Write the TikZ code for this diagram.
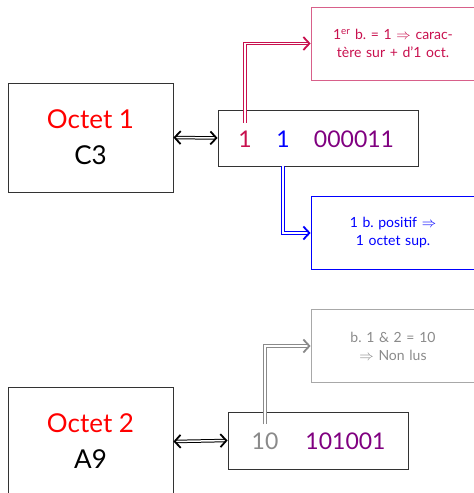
\documentclass[tikz,border=0pt]{standalone}
\usepackage{fontspec}
\setmainfont{Lato}
\frenchspacing
\usetikzlibrary{arrows.meta, positioning, calc}
\definecolor{inkrose}{HTML}{C8104E}
\definecolor{inkroseline}{HTML}{D8608A}
\definecolor{inkpurple}{HTML}{800080}
\definecolor{inkgrey}{HTML}{8A8A8A}
\definecolor{inkgreyline}{HTML}{A8A8A8}
\newcommand{\octetbox}[4]{%
  \node[draw=black!80, line width=0.8pt, minimum width=165pt, minimum height=109pt,
        align=center, font=\fontsize{26}{36}\selectfont] (#1) at (90.5,#2)
        {\textcolor{red}{#3}\\#4};}
\newcommand{\notebox}[4]{%
  \node[draw=#3, line width=0.8pt, minimum width=164pt, minimum height=73pt,
        align=center, text width=155pt, font=\fontsize{14}{18}\selectfont] (#1) at (393,#2)
        {#4};}

\begin{document}
\begin{tikzpicture}[x=1pt, y=1pt,
    bits/.style={inner sep=2pt, font=\fontsize{23}{26}\selectfont},
    dbl/.style={double, line width=1pt, double distance=1.5pt},
    >={Straight Barb[length=6pt, width=13pt, line width=1.8pt]}]
  \useasboundingbox (0,0) rectangle (474,-493);
  % octet 1
  \octetbox{o1}{-137.5}{Octet 1}{C3}
  \node[draw=black!80, line width=0.8pt, minimum width=200pt, minimum height=56pt] (b1) at (318,-138) {};
  \node[bits, text=inkrose] (b1x) at (245,-139) {1};
  \node[bits, text=blue] (b1y) at (283,-139) {1};
  \node[bits, text=inkpurple] (b1z) at (354,-139) {000011};
  \notebox{c1}{-43.5}{inkroseline}{\textcolor{inkrose}{1\textsuperscript{er} b. = 1 $\Rightarrow$ carac-\\t\`ere sur + d'1 oct.}}
  \notebox{c2}{-233}{blue}{\textcolor{blue}{1 b. positif $\Rightarrow$\\1 octet sup.}}
  \draw[dbl, <->] (o1.east) -- (b1.west);
  \draw[dbl, inkrose, ->] ([yshift=6pt]b1x.north) |- (c1.west);
  \draw[dbl, blue, ->] (b1y |- b1.south) |- (c2.west);
  % octet 2
  \octetbox{o2}{-441.5}{Octet 2}{A9}
  \node[draw=black!80, line width=0.8pt, minimum width=180pt, minimum height=57pt] (b2) at (318,-440.5) {};
  \node[bits, text=inkgrey] (b2x) at (265,-441) {10};
  \node[bits, text=inkpurple] (b2y) at (345.5,-441) {101001};
  \notebox{c3}{-346}{inkgreyline}{\textcolor{inkgrey}{b. 1 \& 2 = 10\\$\Rightarrow$ Non lus}}
  \draw[dbl, <->] (o2.east) -- (b2.west);
  \draw[dbl, inkgrey, ->] ([yshift=6pt]b2x.north) |- (c3.west);
\end{tikzpicture}
\end{document}
